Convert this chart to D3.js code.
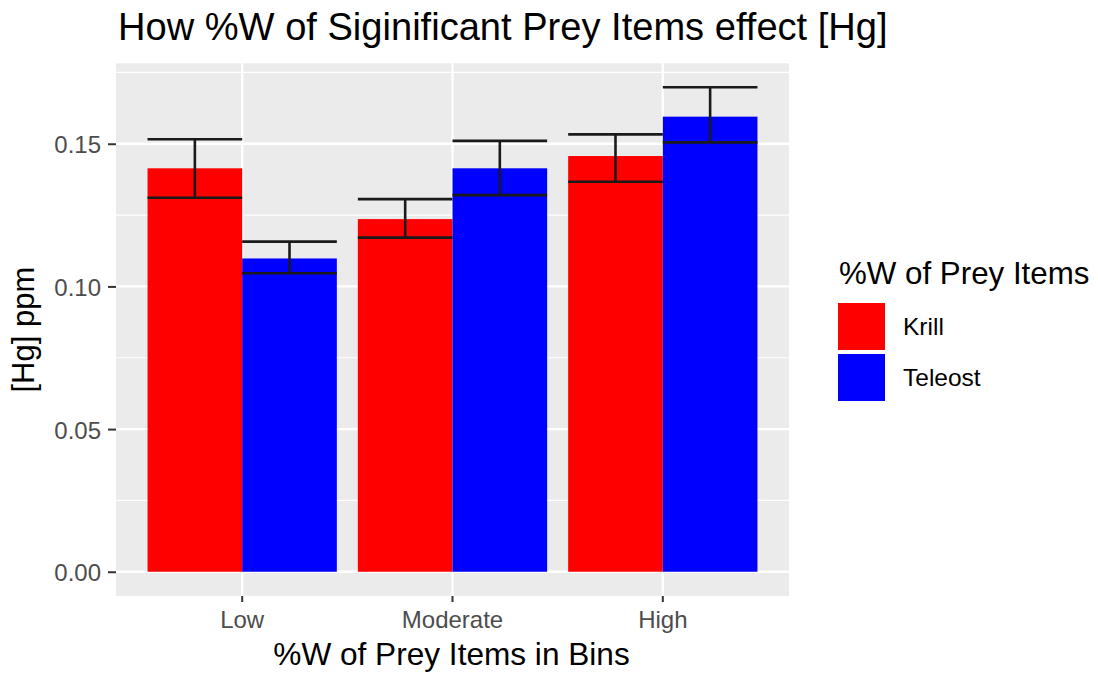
<!DOCTYPE html>
<html>
<head>
<meta charset="utf-8">
<script src="https://cdn.jsdelivr.net/npm/d3@7"></script>
<style>
  html, body { margin: 0; padding: 0; background: #ffffff; }
  svg { display: block; font-family: "Liberation Sans", Arial, Helvetica, sans-serif; }
</style>
</head>
<body>
<svg id="chart" width="1098" height="673"></svg>
<script>
// Mean [Hg] (ppm) per %W bin, with lower/upper error bar limits
const categories = ["Low", "Moderate", "High"];
const seriesNames = ["Krill", "Teleost"];
const seriesColors = ["#ff0000", "#0000ff"];
const krillMean = [0.1414, 0.1236, 0.1457];
const krillLower = [0.1311, 0.1171, 0.1367];
const krillUpper = [0.1516, 0.1306, 0.1533];
const teleostMean = [0.1098, 0.1414, 0.1595];
const teleostLower = [0.1046, 0.1320, 0.1505];
const teleostUpper = [0.1157, 0.1510, 0.1698];
const yTicks = [0, 0.05, 0.10, 0.15];
const yMinorTicks = [0.025, 0.075, 0.125, 0.175];

const rows = [];
categories.forEach((c, i) => {
  rows.push({ cat: c, series: "Krill", mean: krillMean[i], lo: krillLower[i], hi: krillUpper[i] });
  rows.push({ cat: c, series: "Teleost", mean: teleostMean[i], lo: teleostLower[i], hi: teleostUpper[i] });
});

const svg = d3.select("#chart");
const panel = { left: 116, right: 789, top: 63.3, bottom: 596 };

const y = d3.scaleLinear().domain([-0.0085, 0.1782]).range([panel.bottom, panel.top]);
const x = d3.scaleBand().domain(categories).range([panel.left, panel.right])
  .paddingInner(0.1).paddingOuter(0.15);
const xs = d3.scaleBand().domain(seriesNames).range([0, x.bandwidth()]);
const color = d3.scaleOrdinal().domain(seriesNames).range(seriesColors);

// panel background
svg.append("rect")
  .attr("x", panel.left).attr("y", panel.top)
  .attr("width", panel.right - panel.left).attr("height", panel.bottom - panel.top)
  .attr("fill", "#ebebeb");

// grid lines
svg.append("g").selectAll("line").data(yMinorTicks).join("line")
  .attr("x1", panel.left).attr("x2", panel.right)
  .attr("y1", d => y(d)).attr("y2", d => y(d))
  .attr("stroke", "#ffffff").attr("stroke-width", 1.2);
svg.append("g").selectAll("line").data(yTicks).join("line")
  .attr("x1", panel.left).attr("x2", panel.right)
  .attr("y1", d => y(d)).attr("y2", d => y(d))
  .attr("stroke", "#ffffff").attr("stroke-width", 2.4);
svg.append("g").selectAll("line").data(categories).join("line")
  .attr("x1", d => x(d) + x.bandwidth() / 2).attr("x2", d => x(d) + x.bandwidth() / 2)
  .attr("y1", panel.top).attr("y2", panel.bottom)
  .attr("stroke", "#ffffff").attr("stroke-width", 2.4);

// bars
svg.append("g").selectAll("rect").data(rows).join("rect")
  .attr("x", d => x(d.cat) + xs(d.series))
  .attr("width", xs.bandwidth())
  .attr("y", d => y(d.mean))
  .attr("height", d => y(0) - y(d.mean))
  .attr("fill", d => color(d.series));

// error bars
const eb = svg.append("g").attr("stroke", "#1a1a1a").attr("stroke-width", 2.6).attr("fill", "none");
rows.forEach(d => {
  const x0 = x(d.cat) + xs(d.series);
  const x1 = x0 + xs.bandwidth();
  const xm = (x0 + x1) / 2;
  eb.append("line").attr("x1", x0).attr("x2", x1).attr("y1", y(d.hi)).attr("y2", y(d.hi));
  eb.append("line").attr("x1", x0).attr("x2", x1).attr("y1", y(d.lo)).attr("y2", y(d.lo));
  eb.append("line").attr("x1", xm).attr("x2", xm).attr("y1", y(d.hi)).attr("y2", y(d.lo));
});

// y axis
const yAxis = svg.append("g").attr("transform", `translate(${panel.left},0)`)
  .call(d3.axisLeft(y).tickValues(yTicks).tickFormat(d3.format(".2f")).tickSize(8).tickPadding(7));
yAxis.select(".domain").remove();
yAxis.selectAll(".tick line").attr("stroke", "#333333").attr("stroke-width", 2);
yAxis.selectAll(".tick text").attr("fill", "#4d4d4d").attr("font-size", 24)
  .attr("font-family", "Liberation Sans, Arial, sans-serif").attr("dy", "0.38em");

// x axis
const xAxis = svg.append("g").attr("transform", `translate(0,${panel.bottom})`)
  .call(d3.axisBottom(x).tickSize(6).tickPadding(6));
xAxis.select(".domain").remove();
xAxis.selectAll(".tick line").attr("stroke", "#333333").attr("stroke-width", 2);
xAxis.selectAll(".tick text").attr("fill", "#4d4d4d").attr("font-size", 24)
  .attr("font-family", "Liberation Sans, Arial, sans-serif").attr("dy", "0.85em");

// title and axis titles
svg.append("text").attr("x", 118).attr("y", 39.5)
  .attr("font-size", 38.1).attr("fill", "#000000")
  .text("How %W of Siginificant Prey Items effect [Hg]");
svg.append("text").attr("x", (panel.left + panel.right) / 2 - 1).attr("y", 665)
  .attr("text-anchor", "middle").attr("font-size", 31.6).attr("fill", "#000000")
  .text("%W of Prey Items in Bins");
svg.append("text")
  .attr("transform", `translate(33.5,${(panel.top + panel.bottom) / 2}) rotate(-90)`)
  .attr("text-anchor", "middle").attr("font-size", 31).attr("fill", "#000000")
  .text("[Hg] ppm");

// legend
const legend = svg.append("g");
legend.append("text").attr("x", 839).attr("y", 284)
  .attr("font-size", 31.3).attr("fill", "#000000").text("%W of Prey Items");
seriesNames.forEach((s, i) => {
  const ky = 303 + i * 51;
  legend.append("rect").attr("x", 838).attr("y", ky).attr("width", 47).attr("height", 47)
    .attr("fill", color(s));
  legend.append("text").attr("x", 903).attr("y", ky + 32)
    .attr("font-size", 24.5).attr("fill", "#000000").text(s);
});
</script>
</body>
</html>
